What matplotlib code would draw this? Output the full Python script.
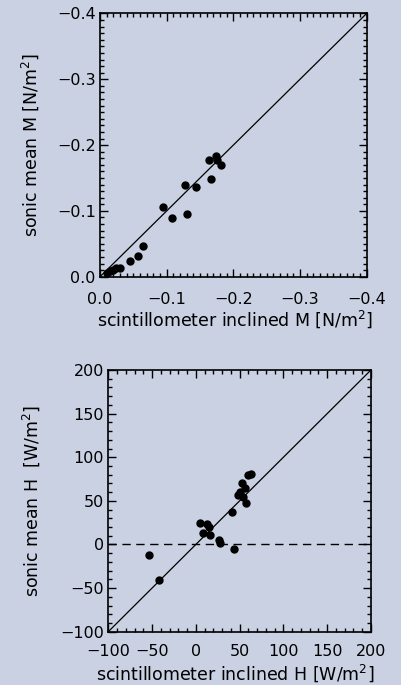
import matplotlib
matplotlib.use("Agg")
import matplotlib.pyplot as plt
from matplotlib.ticker import MultipleLocator
import numpy as np

# ---- data: momentum flux (top panel) ----
m_scint = [-0.164, -0.174, -0.176, -0.181, -0.166, -0.144, -0.128, -0.131,
           -0.095, -0.1085, -0.064, -0.0575, -0.045, -0.030, -0.024, -0.020,
           -0.015, -0.010]
m_sonic = [-0.178, -0.183, -0.177, -0.169, -0.148, -0.136, -0.139, -0.096,
           -0.106, -0.089, -0.047, -0.031, -0.024, -0.014, -0.013, -0.010,
           -0.008, -0.006]

# ---- data: sensible heat flux (bottom panel) ----
h_scint = [-53, -42, 4.7, 13, 8.5, 16, 15, 26.4, 27.6, 43.5, 40.9,
           50.4, 56.1, 54.2, 59.9, 52.3, 57.2, 62.5, 48.5]
h_sonic = [-12, -41, 24.3, 23.5, 13.5, 10.9, 20.3, 5.1, 2.0, -5.5, 37.6,
           60.5, 64.4, 54.8, 79.7, 70.1, 47.0, 80.7, 57.0]

m_ticks = [0.0, -0.1, -0.2, -0.3, -0.4]
m_ticklabels = ["0.0", "\u22120.1", "\u22120.2", "\u22120.3", "\u22120.4"]
h_ticks = [-100, -50, 0, 50, 100, 150, 200]
h_ticklabels = ["\u2212100", "\u221250", "0", "50", "100", "150", "200"]

bg = "#c9d1e3"
fig = plt.figure(figsize=(4.01, 6.85), dpi=100, facecolor=bg)


def style(ax, minor, xpad):
    ax.set_facecolor(bg)
    ax.xaxis.set_minor_locator(MultipleLocator(minor))
    ax.yaxis.set_minor_locator(MultipleLocator(minor))
    ax.tick_params(which="both", direction="in", top=True, right=True,
                   colors="black", labelsize=11.5, width=1.0)
    ax.tick_params(which="major", length=6)
    ax.tick_params(which="minor", length=3)
    ax.tick_params(axis="x", pad=xpad)
    ax.tick_params(axis="y", pad=3)
    for s in ax.spines.values():
        s.set_linewidth(1.2)


# ==============================
# TOP PANEL
# ==============================
ax1 = fig.add_axes([0.2494, 0.596, 0.665, 0.3844])
style(ax1, 0.01, 11)
ax1.plot([0, -0.4], [0, -0.4], color="black", lw=0.9)
ax1.plot(m_scint, m_sonic, "o", color="black", ms=5)
ax1.set_xlim(0, -0.4)
ax1.set_ylim(0, -0.4)
ax1.set_xticks(m_ticks)
ax1.set_xticklabels(m_ticklabels)
ax1.set_yticks(m_ticks)
ax1.set_yticklabels(m_ticklabels)
ax1.set_xlabel("scintillometer inclined M [N/m$^2$]", fontsize=12.5, va="center")
ax1.set_ylabel("sonic mean M [N/m$^2$]", fontsize=12.5, va="center")
ax1.xaxis.set_label_coords(0.506, -0.16)
ax1.yaxis.set_label_coords(-0.262, 0.5)

# ==============================
# BOTTOM PANEL
# ==============================
ax2 = fig.add_axes([0.270, 0.0778, 0.655, 0.382])
style(ax2, 10, 8.5)
ax2.plot([-100, 200], [-100, 200], color="black", lw=0.9)
ax2.axhline(0, color="black", lw=1.0, linestyle=(0, (6, 4)))
ax2.plot(h_scint, h_sonic, "o", color="black", ms=5)
ax2.set_xlim(-100, 200)
ax2.set_ylim(-100, 200)
ax2.set_xticks(h_ticks)
ax2.set_xticklabels(h_ticklabels)
ax2.set_yticks(h_ticks)
ax2.set_yticklabels(h_ticklabels)
ax2.set_xlabel("scintillometer inclined H [W/m$^2$]", fontsize=12.5, va="center")
ax2.set_ylabel("sonic mean H  [W/m$^2$]", fontsize=12.5, va="center")
ax2.xaxis.set_label_coords(0.482, -0.157)
ax2.yaxis.set_label_coords(-0.292, 0.5)

fig.savefig("out.png", dpi=100, facecolor=bg)
